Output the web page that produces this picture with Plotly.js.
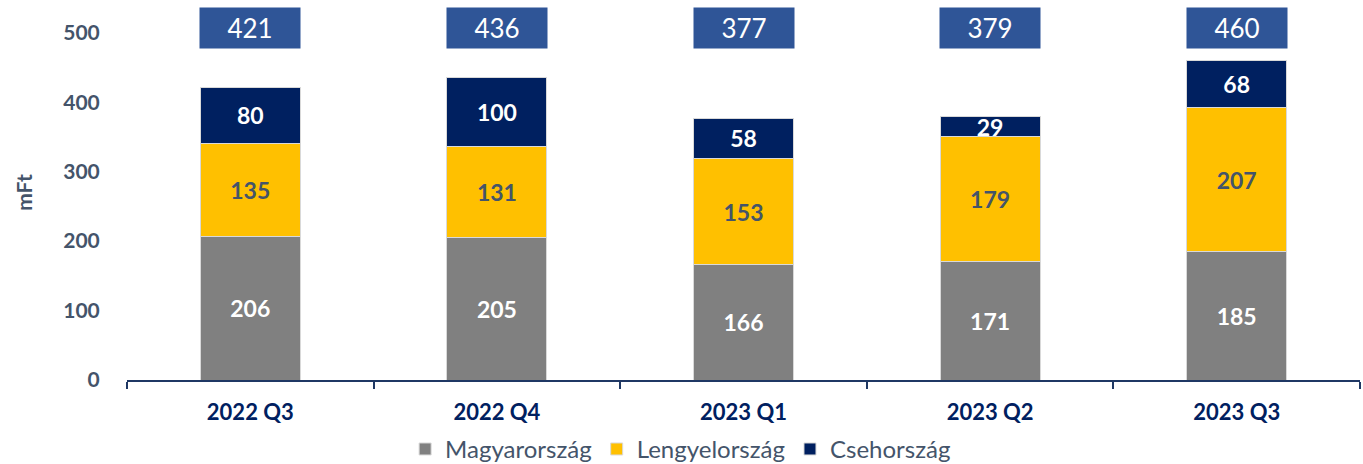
<!DOCTYPE html>
<html><head><meta charset="utf-8">
<script src="https://cdn.plot.ly/plotly-3.0.1.min.js"></script>
<style>html,body{margin:0;padding:0;background:#fff;}#chart{width:1363px;height:464px;}</style>
</head><body><div id="chart"></div>
<script>
const categories = ['2022 Q3', '2022 Q4', '2023 Q1', '2023 Q2', '2023 Q3'];
const magyarorszag = [206, 205, 166, 171, 185];
const lengyelorszag = [135, 131, 153, 179, 207];
const csehorszag = [80, 100, 58, 29, 68];
const seriesNames = ['Magyarország', 'Lengyelország', 'Csehország'];
const totals = categories.map((c, i) => magyarorszag[i] + lengyelorszag[i] + csehorszag[i]);

const FONT = 'Lato, "Open Sans", sans-serif';
const GRAYBLUE = '#44546A';
const NAVY = '#002060';

function barTrace(name, vals, color, txtColor) {
  return {
    type: 'bar', name: name, x: categories, y: vals,
    marker: {color: color, line: {color: '#d9d9d9', width: 1}},
    width: 0.405,
    text: vals.map(String), textposition: 'inside', insidetextanchor: 'middle',
    textangle: 0,
    constraintext: 'none',
    textfont: {family: FONT, size: 23, color: txtColor, weight: 'bold'},
    hoverinfo: 'x+y+name'
  };
}

const data = [
  barTrace(seriesNames[0], magyarorszag, '#808080', '#ffffff'),
  barTrace(seriesNames[1], lengyelorszag, '#FFC000', GRAYBLUE),
  barTrace(seriesNames[2], csehorszag, NAVY, '#ffffff')
];

const annotations = categories.map((c, i) => ({
  x: c, y: 507, xref: 'x', yref: 'y', text: String(totals[i]), showarrow: false,
  bgcolor: '#2F5597', width: 96, height: 36, borderpad: 2,
  font: {family: FONT, size: 26, color: '#ffffff'}
}));

const layout = {
  width: 1363, height: 464,
  margin: {l: 127, r: 3, t: 5, b: 84, autoexpand: false},
  barmode: 'stack',
  paper_bgcolor: '#ffffff', plot_bgcolor: '#ffffff',
  showlegend: true,
  legend: {orientation: 'h', x: 0.449, xanchor: 'center', y: -0.125, yanchor: 'top',
    font: {family: FONT, size: 24, color: GRAYBLUE}, traceorder: 'normal'},
  xaxis: {
    type: 'category', showline: true, linecolor: '#1F3864', linewidth: 2,
    ticks: 'outside', tickson: 'boundaries', ticklen: 7, tickcolor: '#1F3864', tickwidth: 2,
    ticklabelstandoff: 12,
    tickfont: {family: FONT, size: 22, color: NAVY, weight: 'bold'},
    showgrid: false, zeroline: false
  },
  yaxis: {
    range: [0, 540], tickvals: [0, 100, 200, 300, 400, 500],
    showgrid: false, zeroline: false, showline: false,
    ticks: 'outside', ticklen: 22, tickcolor: 'rgba(0,0,0,0)',
    tickfont: {family: FONT, size: 21, color: GRAYBLUE, weight: 'bold'},
    title: {text: 'mFt', standoff: 24, font: {family: FONT, size: 21, color: GRAYBLUE, weight: 'bold'}}
  },
  annotations: annotations,
  font: {family: FONT}
};

Plotly.newPlot('chart', data, layout, {displayModeBar: false, staticPlot: true});
</script>
</body></html>
